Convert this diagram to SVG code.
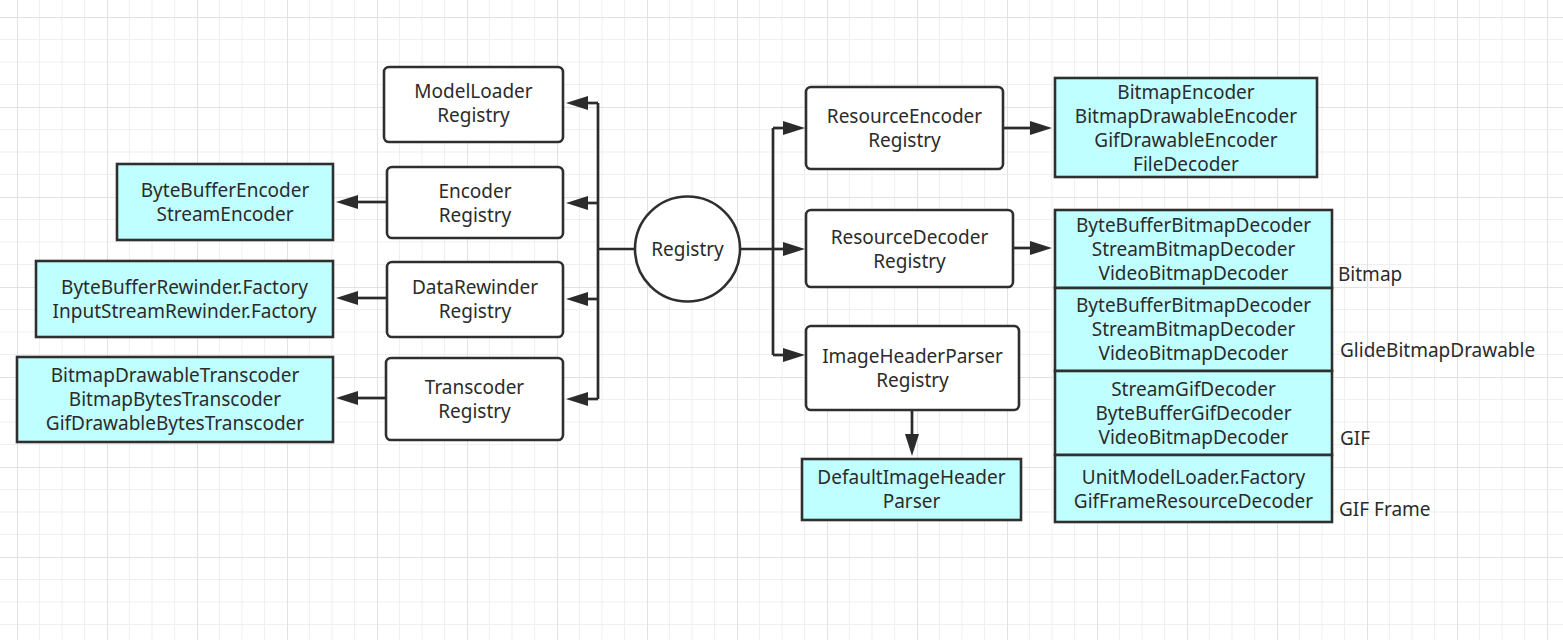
<svg xmlns="http://www.w3.org/2000/svg" width="1563" height="640" viewBox="0 0 1563 640">
<defs>
<pattern id="grid" patternUnits="userSpaceOnUse" x="17" y="17" width="90" height="90">
<path d="M22.5,0V90M45,0V90M67.5,0V90M0,22.5H90M0,45H90M0,67.5H90" stroke="#efefef" stroke-width="1" fill="none"/>
<path d="M0.5,0V90M0,0.5H90" stroke="#e2e2e2" stroke-width="1" fill="none"/>
</pattern>
<marker id="arr" viewBox="0 0 22 14" refX="1" refY="7" markerWidth="22" markerHeight="14" markerUnits="userSpaceOnUse" orient="auto">
<path d="M0,0 L22,7 L0,14 z" fill="#2b2b2b"/>
</marker>
</defs>
<style>
.reg{fill:#ffffff;stroke:#2f2f2f;stroke-width:2.6}
.impl{fill:#c0ffff;stroke:#2f2f2f;stroke-width:2.6}
text{font-family:"Noto Sans","Open Sans","Liberation Sans",sans-serif;font-size:19px;fill:#2b2b2b}
.c{text-anchor:middle}
.con{fill:none;stroke:#2b2b2b;stroke-width:2.7}
</style>
<rect x="0" y="0" width="1563" height="640" fill="#ffffff"/>
<rect x="0" y="0" width="1563" height="640" fill="url(#grid)"/>

<g id="connectors">
<path class="con" d="M635,249H598"/>
<path class="con" d="M598,103V399"/>
<path class="con" d="M598,103H587" marker-end="url(#arr)"/>
<path class="con" d="M598,203H587" marker-end="url(#arr)"/>
<path class="con" d="M598,299H587" marker-end="url(#arr)"/>
<path class="con" d="M598,399H587" marker-end="url(#arr)"/>
<path class="con" d="M387,202H357" marker-end="url(#arr)"/>
<path class="con" d="M387,298H357" marker-end="url(#arr)"/>
<path class="con" d="M386,398H357" marker-end="url(#arr)"/>
<path class="con" d="M740,249H773"/>
<path class="con" d="M773,128V355"/>
<path class="con" d="M773,128H784" marker-end="url(#arr)"/>
<path class="con" d="M773,249H784" marker-end="url(#arr)"/>
<path class="con" d="M773,355H784" marker-end="url(#arr)"/>
<path class="con" d="M1003,128H1031" marker-end="url(#arr)"/>
<path class="con" d="M1013,248H1031" marker-end="url(#arr)"/>
<path class="con" d="M912,410V435" marker-end="url(#arr)"/>
</g>

<g id="registry">
<circle cx="687.5" cy="249" r="52.5" class="reg"/>
<text x="687.5" y="255.5" class="c">Registry</text>
</g>

<g id="modelloader-registry">
<rect x="384" y="67" width="179" height="75" rx="5" class="reg"/>
<text x="473.5" y="98" class="c">ModelLoader</text>
<text x="473.5" y="122" class="c">Registry</text>
</g>
<g id="encoder-registry">
<rect x="387" y="167" width="176" height="71" rx="5" class="reg"/>
<text x="475" y="197.5" class="c">Encoder</text>
<text x="475" y="221.5" class="c">Registry</text>
</g>
<g id="datarewinder-registry">
<rect x="387" y="262" width="176" height="75" rx="5" class="reg"/>
<text x="475" y="293.5" class="c">DataRewinder</text>
<text x="475" y="317.5" class="c">Registry</text>
</g>
<g id="transcoder-registry">
<rect x="386" y="358" width="177" height="82" rx="5" class="reg"/>
<text x="474.5" y="393.5" class="c">Transcoder</text>
<text x="474.5" y="417.5" class="c">Registry</text>
</g>

<g id="encoders">
<rect x="117" y="164" width="216" height="76" class="impl"/>
<text x="225" y="197" class="c">ByteBufferEncoder</text>
<text x="225" y="221" class="c">StreamEncoder</text>
</g>
<g id="rewinders">
<rect x="36" y="261" width="297" height="76" class="impl"/>
<text x="184.5" y="293.5" class="c">ByteBufferRewinder.Factory</text>
<text x="184.5" y="317.5" class="c">InputStreamRewinder.Factory</text>
</g>
<g id="transcoders">
<rect x="17" y="357" width="316" height="85" class="impl"/>
<text x="175" y="381.5" class="c">BitmapDrawableTranscoder</text>
<text x="175" y="405.5" class="c">BitmapBytesTranscoder</text>
<text x="175" y="429.5" class="c">GifDrawableBytesTranscoder</text>
</g>

<g id="resourceencoder-registry">
<rect x="806" y="87" width="197" height="82" rx="5" class="reg"/>
<text x="904.5" y="123" class="c">ResourceEncoder</text>
<text x="904.5" y="147" class="c">Registry</text>
</g>
<g id="resourcedecoder-registry">
<rect x="806" y="210" width="207" height="77" rx="5" class="reg"/>
<text x="909.5" y="243.5" class="c">ResourceDecoder</text>
<text x="909.5" y="267.5" class="c">Registry</text>
</g>
<g id="imageheaderparser-registry">
<rect x="806" y="326" width="213" height="84" rx="5" class="reg"/>
<text x="912.5" y="362.5" class="c">ImageHeaderParser</text>
<text x="912.5" y="386.5" class="c">Registry</text>
</g>
<g id="default-parser">
<rect x="802" y="459" width="219" height="61" class="impl"/>
<text x="911.5" y="483.5" class="c">DefaultImageHeader</text>
<text x="911.5" y="507.5" class="c">Parser</text>
</g>

<g id="resource-encoders">
<rect x="1055" y="78" width="262" height="99" class="impl"/>
<text x="1186" y="99" class="c">BitmapEncoder</text>
<text x="1186" y="123" class="c">BitmapDrawableEncoder</text>
<text x="1186" y="147" class="c">GifDrawableEncoder</text>
<text x="1186" y="171" class="c">FileDecoder</text>
</g>

<g id="decoders-bitmap">
<rect x="1055" y="210" width="277" height="78" class="impl"/>
<text x="1193.5" y="231.5" class="c">ByteBufferBitmapDecoder</text>
<text x="1193.5" y="255.5" class="c">StreamBitmapDecoder</text>
<text x="1193.5" y="279.5" class="c">VideoBitmapDecoder</text>
<text x="1338" y="281">Bitmap</text>
</g>
<g id="decoders-drawable">
<rect x="1055" y="288" width="277" height="83" class="impl"/>
<text x="1193.5" y="311.5" class="c">ByteBufferBitmapDecoder</text>
<text x="1193.5" y="335.5" class="c">StreamBitmapDecoder</text>
<text x="1193.5" y="359.5" class="c">VideoBitmapDecoder</text>
<text x="1340" y="357">GlideBitmapDrawable</text>
</g>
<g id="decoders-gif">
<rect x="1055" y="371" width="277" height="84" class="impl"/>
<text x="1193.5" y="395.5" class="c">StreamGifDecoder</text>
<text x="1193.5" y="419.5" class="c">ByteBufferGifDecoder</text>
<text x="1193.5" y="443.5" class="c">VideoBitmapDecoder</text>
<text x="1340" y="445">GIF</text>
</g>
<g id="decoders-gifframe">
<rect x="1055" y="455" width="277" height="67" class="impl"/>
<text x="1193.5" y="483.5" class="c">UnitModelLoader.Factory</text>
<text x="1193.5" y="507.5" class="c">GifFrameResourceDecoder</text>
<text x="1339" y="516">GIF Frame</text>
</g>
</svg>
